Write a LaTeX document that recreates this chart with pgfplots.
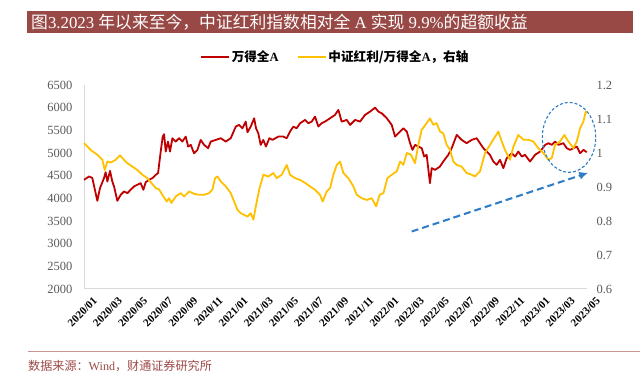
\documentclass[border=0pt]{standalone}
\usepackage{fontspec}
\setmainfont{Liberation Serif}
\newfontfamily\cjk{Noto Sans CJK SC}
\usepackage{pgfplots}
\usepackage{pgfplotstable}
\pgfplotsset{compat=1.18}
\usetikzlibrary{arrows.meta}
\definecolor{wred}{HTML}{C00000}
\definecolor{wyel}{HTML}{FFC000}
\definecolor{banner}{HTML}{984845}
\definecolor{arrowblue}{HTML}{2E7CC6}
\definecolor{ticktext}{HTML}{595959}
\definecolor{src}{HTML}{9C4A47}
\definecolor{rulec}{HTML}{C99391}

\pgfplotstableread{
m v
0.00 4408
0.40 4482
0.66 4450
1.06 3946
1.27 4225
1.59 4445
1.72 4577
1.86 4372
2.07 4606
2.25 4372
2.39 4262
2.65 3946
2.92 4078
3.18 4151
3.45 4115
3.71 4188
3.98 4262
4.24 4298
4.51 4335
4.72 4188
4.91 4357
5.17 4408
5.44 4445
5.70 4518
5.89 4555
6.10 5032
6.26 5362
6.37 5414
6.50 5032
6.68 5252
6.84 5032
7.03 5326
7.29 5252
7.56 5326
7.82 5252
8.09 5362
8.28 5142
8.49 5179
8.75 4995
9.02 5069
9.28 5289
9.55 5179
9.87 5106
10.08 5252
10.48 5289
10.88 5326
11.27 5252
11.67 5326
12.07 5583
12.33 5620
12.60 5546
12.86 5693
13.00 5458
13.26 5583
13.53 5766
13.68 5546
13.86 5436
14.05 5179
14.26 5289
14.47 5142
14.74 5326
14.99 5289
15.45 5362
15.85 5362
16.12 5326
16.38 5473
16.65 5583
16.91 5546
17.18 5656
17.58 5730
17.84 5656
18.11 5693
18.37 5803
18.64 5583
18.90 5656
19.17 5693
19.57 5766
19.96 5840
20.23 5950
20.49 5693
20.89 5730
21.16 5620
21.56 5730
21.95 5693
22.35 5840
22.75 5913
23.15 6001
23.41 5913
23.68 5876
24.08 5766
24.47 5620
24.74 5362
25.14 5473
25.40 5546
25.67 5473
25.93 5216
26.12 5069
26.33 5179
26.60 5142
26.86 5106
27.05 4922
27.25 4959
27.51 4335
27.65 4665
27.91 4628
28.31 4702
28.57 4812
28.97 4959
29.24 5106
29.64 5399
30.03 5289
30.43 5216
30.83 5289
31.23 5326
31.49 5216
31.76 5106
32.02 5032
32.29 4959
32.55 4812
32.82 4739
33.08 4849
33.35 4665
33.61 4885
34.01 4995
34.28 4922
34.54 5032
34.81 4922
35.07 4959
35.47 4812
35.87 4959
36.27 5032
36.67 5179
36.93 5216
37.20 5179
37.46 5252
37.73 5179
38.12 5216
38.39 5106
38.66 5069
38.92 5106
39.19 5142
39.45 4995
39.72 5069
39.98 5018
}\redtab

\pgfplotstableread{
m v
0.00 1.029
0.53 1.009
1.06 0.995
1.46 0.980
1.65 0.950
1.86 0.975
2.12 0.972
2.52 0.980
2.86 0.993
3.18 0.980
3.45 0.970
3.85 0.960
4.24 0.950
4.64 0.936
5.04 0.926
5.31 0.914
5.70 0.897
5.97 0.893
6.23 0.877
6.58 0.857
6.76 0.867
6.95 0.853
7.29 0.872
7.69 0.882
7.96 0.872
8.36 0.887
8.75 0.880
9.15 0.877
9.55 0.877
9.95 0.882
10.21 0.892
10.42 0.926
10.61 0.931
10.88 0.916
11.27 0.902
11.67 0.882
11.94 0.857
12.20 0.833
12.47 0.823
12.73 0.818
13.00 0.813
13.26 0.823
13.47 0.804
13.70 0.850
13.95 0.895
14.26 0.936
14.66 0.931
15.06 0.941
15.32 0.926
15.72 0.936
16.12 0.965
16.38 0.936
16.78 0.926
17.18 0.921
17.58 0.912
17.97 0.902
18.37 0.892
18.77 0.877
18.98 0.857
19.30 0.887
19.57 0.897
19.83 0.936
20.10 0.965
20.36 0.975
20.63 0.941
21.02 0.926
21.42 0.902
21.69 0.877
22.09 0.867
22.48 0.862
22.88 0.867
23.23 0.843
23.51 0.877
23.81 0.882
24.13 0.926
24.47 0.936
24.87 0.946
25.14 0.975
25.40 0.965
25.67 1.000
26.00 0.995
26.32 0.970
26.59 1.024
26.85 1.068
27.25 1.088
27.51 1.102
27.78 1.083
28.04 1.088
28.31 1.063
28.57 1.058
28.84 1.024
29.11 1.009
29.37 0.975
29.64 0.965
30.03 0.960
30.43 0.941
30.83 0.936
31.09 0.931
31.49 0.946
31.89 1.000
32.29 1.024
32.69 1.048
32.95 1.063
33.22 1.034
33.48 1.009
33.88 0.980
34.15 1.019
34.54 1.053
34.94 1.039
35.34 1.039
35.73 1.034
36.13 1.014
36.53 1.000
36.93 0.980
37.20 0.985
37.46 1.024
37.86 1.034
38.20 1.053
38.52 1.034
38.92 1.014
39.19 1.034
39.45 1.073
39.72 1.093
39.90 1.122
40.00 1.117
}\yeltab

\pgfplotsset{
  common/.style={
    at={(84bp,83bp)}, anchor=south west,
    scale only axis, width=503bp, height=204bp,
    xmin=0, xmax=40,
    major tick length=0pt,
    clip=false,
    /pgf/number format/assume math mode=true,
    /pgf/number format/1000 sep={},
    scaled y ticks=false,
  }
}

\begin{document}
\begin{tikzpicture}
\useasboundingbox (0bp,0bp) rectangle (640bp,372bp);
\fill[banner] (27bp,339.3bp) rectangle (633bp,361bp);
\node[anchor=west, text=white, inner sep=0pt, font=\fontsize{16.8bp}{18bp}\selectfont] at (31bp,350.2bp)
  {{\cjk 图}3.2023 {\cjk 年以来至今，中证红利指数相对全} A {\cjk 实现} 9.9\%{\cjk 的超额收益}};
\draw[rulec, line width=1bp] (28bp,20.3bp) -- (640bp,20.3bp);
\node[anchor=west, text=src, inner sep=0pt, font=\fontsize{12.1bp}{13bp}\selectfont] at (28bp,6bp)
  {{\cjk 数据来源：}Wind{\cjk ，财通证券研究所}};

\begin{axis}[common,
  ymin=2000, ymax=6500,
  ytick={2000,2500,3000,3500,4000,4500,5000,5500,6000,6500},
  xtick={0,2,...,40},
  xticklabels={2020/01,2020/03,2020/05,2020/07,2020/09,2020/11,2021/01,2021/03,2021/05,2021/07,2021/09,2021/11,2022/01,2022/03,2022/05,2022/07,2022/09,2022/11,2023/01,2023/03,2023/05},
  axis x line*=bottom, axis y line*=left,
  axis line style={draw=black!15, line width=1bp, -},
  xticklabel style={rotate=45, anchor=east, yshift=-15bp, xshift=2bp, inner sep=1bp, font=\fontsize{11bp}{13bp}\selectfont\bfseries},
  yticklabel style={text=ticktext, xshift=-8bp, font=\fontsize{12.5bp}{14bp}\selectfont},
]
\addplot[wred, line width=1.8bp, line join=round] table[x=m,y=v] {\redtab};
\end{axis}

\begin{axis}[common,
  ymin=0.6, ymax=1.2,
  ytick={0.6,0.7,0.8,0.9,1,1.1,1.2},
  axis x line=none, axis y line*=right,
  axis line style={draw=none},
  yticklabel style={text=ticktext, xshift=6bp, font=\fontsize{12.5bp}{14bp}\selectfont},
  legend columns=2,
  legend style={at={(0.499,1.137)}, anchor=center, draw=none, fill=none,
    font=\fontsize{12.6bp}{14bp}\selectfont\bfseries,
    /tikz/every even column/.append style={column sep=16bp}},
  legend image code/.code={\draw[#1] (0bp,0bp) -- (28bp,0bp);},
]
\addlegendimage{wred, line width=2.2bp}
\addlegendentry{{\cjk\bfseries 万得全}A}
\addplot[wyel, line width=1.8bp, line join=round] table[x=m,y=v] {\yeltab};
\addlegendentry{{\cjk\bfseries 中证红利/万得全}A{\cjk\bfseries ，右轴}}
\draw[arrowblue, dash pattern=on 3bp off 2bp, line width=1.1bp] (axis cs:38.57,1.046) ellipse [x radius=26.7bp, y radius=35bp];
\draw[arrowblue, dash pattern=on 7bp off 4bp, line width=2bp, -{Latex[length=9bp,width=8bp]}] (axis cs:26.06,0.769) -- (axis cs:40.1,0.942);
\end{axis}
\end{tikzpicture}
\end{document}
